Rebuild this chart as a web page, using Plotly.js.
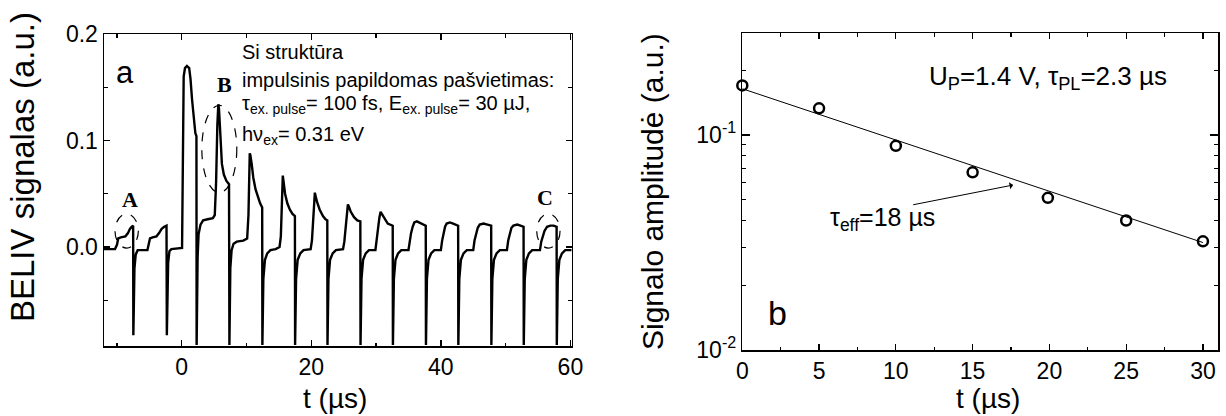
<!DOCTYPE html>
<html>
<head>
<meta charset="utf-8">
<script src="https://cdn.plot.ly/plotly-3.0.1.min.js"></script>
<style>
  html, body { margin: 0; padding: 0; background: #ffffff; }
  #chart { width: 1226px; height: 416px; }
</style>
</head>
<body>
<div id="chart"></div>
<script>
// (a) BELIV transient under pulsed excitation: time (µs) and signal (a.u.)
const beliv_t = [
  -12.0, -10.3, -10.0, -9.8, -9.4, -8.7, -8.3, -8.0, -7.7, -7.5,
  -7.47, -7.3, -7.1, -6.8, -5.3, -5.1, -4.9, -4.5, -3.9, -3.5, -3.1, -2.7, -2.35,
  -2.3, -2.1, -1.9, -1.6, 0.05, 0.15, 0.3, 0.5, 0.8, 1.15, 1.35, 1.6, 1.85, 2.1, 2.27,
  2.3, 2.45, 2.6, 2.9, 3.3, 4.0, 4.8, 5.1, 5.3, 5.5, 5.65, 5.75, 5.9, 6.05, 6.2, 6.5, 6.9, 7.3,
  7.36, 7.5, 7.7, 8.0, 8.5, 9.5, 10.1, 10.3, 10.5, 10.6, 10.8, 11.05, 11.4, 11.8, 12.1, 12.42,
  12.45, 12.6, 12.85, 13.2, 13.7, 14.5, 15.1, 15.3, 15.45, 15.6, 15.75, 15.95, 16.3, 16.7, 17.1, 17.47,
  17.5, 17.65, 17.9, 18.3, 18.8, 19.9, 20.1, 20.3, 20.55, 20.7, 20.9, 21.3, 21.8, 22.2, 22.47,
  22.5, 22.65, 22.9, 23.3, 23.8, 24.9, 25.1, 25.35, 25.65, 25.8, 26.1, 26.6, 27.1, 27.57,
  27.6, 27.75, 28.0, 28.4, 28.9, 29.9, 30.05, 30.25, 30.5, 30.7, 30.9, 31.3, 31.8, 32.57,
  32.6, 32.75, 33.0, 33.4, 33.9, 35.0, 35.2, 35.4, 35.65, 35.9, 36.3, 36.7, 37.2, 37.67,
  37.7, 37.85, 38.1, 38.5, 39.0, 40.0, 40.2, 40.4, 40.65, 40.9, 41.4, 41.9, 42.67,
  42.7, 42.85, 43.1, 43.5, 44.0, 45.0, 45.2, 45.4, 45.7, 46.0, 46.6, 47.2, 47.77,
  47.8, 47.95, 48.2, 48.6, 49.1, 50.2, 50.4, 50.6, 50.9, 51.2, 51.8, 52.3, 52.77,
  52.8, 52.95, 53.2, 53.6, 54.1, 55.3, 55.5, 55.7, 56.0, 56.4, 56.9, 57.4, 57.87,
  57.9, 58.05, 58.3, 58.7, 59.2, 60.2
];
const beliv_v = [
  -0.002, -0.002, 0.002, 0.008, 0.009, 0.010, 0.013, 0.017, 0.019, 0.020,
  -0.083, -0.020, -0.007, -0.003, -0.003, 0.002, 0.008, 0.009, 0.010, 0.013, 0.017, 0.019, 0.020,
  -0.083, -0.015, -0.004, -0.002, -0.001, 0.060, 0.160, 0.168, 0.170, 0.168, 0.158, 0.138, 0.120, 0.107, 0.104,
  -0.092, -0.010, 0.012, 0.021, 0.025, 0.026, 0.027, 0.030, 0.060, 0.115, 0.134, 0.130, 0.112, 0.093, 0.078, 0.068, 0.062, 0.059,
  -0.092, -0.020, -0.003, 0.003, 0.005, 0.006, 0.008, 0.030, 0.088, 0.086, 0.078, 0.065, 0.054, 0.046, 0.041, 0.037,
  -0.092, -0.030, -0.012, -0.006, -0.003, -0.002, 0.000, 0.010, 0.040, 0.067, 0.060, 0.050, 0.041, 0.035, 0.031, 0.029,
  -0.092, -0.030, -0.012, -0.006, -0.003, -0.002, 0.006, 0.025, 0.051, 0.047, 0.042, 0.035, 0.029, 0.026, 0.025,
  -0.092, -0.030, -0.012, -0.006, -0.003, -0.002, 0.005, 0.022, 0.040, 0.038, 0.033, 0.028, 0.025, 0.024,
  -0.092, -0.030, -0.012, -0.006, -0.003, -0.003, 0.005, 0.012, 0.027, 0.033, 0.031, 0.026, 0.022, 0.020,
  -0.092, -0.030, -0.012, -0.006, -0.003, -0.003, 0.006, 0.013, 0.019, 0.023, 0.024, 0.023, 0.021, 0.020,
  -0.092, -0.030, -0.012, -0.006, -0.003, -0.003, 0.006, 0.013, 0.019, 0.022, 0.023, 0.022, 0.020,
  -0.092, -0.030, -0.012, -0.006, -0.003, -0.003, 0.006, 0.012, 0.018, 0.021, 0.022, 0.021, 0.020,
  -0.092, -0.030, -0.012, -0.006, -0.003, -0.003, 0.006, 0.012, 0.018, 0.020, 0.021, 0.020, 0.019,
  -0.092, -0.030, -0.012, -0.006, -0.003, -0.003, 0.005, 0.010, 0.015, 0.019, 0.020, 0.020, 0.019,
  -0.092, -0.030, -0.012, -0.006, -0.003, -0.003
];

// (b) pulse amplitude vs. delay, with the exponential fit (tau_eff = 18 µs)
const amp_t = [0, 5, 10, 15, 19.9, 25, 30];
const amp_v = [0.170, 0.133, 0.089, 0.067, 0.051, 0.040, 0.032];
const fit_t = [0, 30];
const fit_v = [0.164, 0.0316];

// tick labels
const ax_a_x_ticks = [0, 20, 40, 60];
const ax_a_x_minor = [-10, 10, 30, 50];
const ax_a_y_ticks = [0, 0.1, 0.2];
const ax_a_y_labels = ['0.0', '0.1', '0.2'];
const ax_a_y_minor = [-0.05, 0.05, 0.15];
const ax_b_x_ticks = [0, 5, 10, 15, 20, 25, 30];
const ax_b_x_minor = [2.5, 7.5, 12.5, 17.5, 22.5, 27.5];
const ax_b_y_ticks = [0.01, 0.1];
const ax_b_y_labels = ['10<sup>-2</sup>', '10<sup>-1</sup>'];
const ax_b_y_minor = [0.02, 0.03, 0.04, 0.05, 0.06, 0.07, 0.08, 0.09, 0.2, 0.3];

const SANS = 'Liberation Sans, Arial, Helvetica, sans-serif';
const SERIF = 'Liberation Serif, Times New Roman, serif';
const W = 1226, H = 416;
const px = v => v / W;            // horizontal pixel -> paper fraction
const py = v => 1 - v / H;        // vertical pixel (from top) -> paper fraction

const axisCommon = {
  showline: true, linecolor: '#000', linewidth: 1.5, mirror: 'ticks',
  ticks: 'inside', ticklen: 6, tickwidth: 1.3, tickcolor: '#000',
  showgrid: false, zeroline: false,
  tickfont: { family: SANS, size: 23, color: '#000' }
};
const minorCommon = { ticks: 'inside', ticklen: 3.5, tickwidth: 1.2, tickcolor: '#000', showgrid: false };

const traces = [
  {
    x: beliv_t, y: beliv_v, xaxis: 'x', yaxis: 'y',
    type: 'scatter', mode: 'lines',
    line: { color: '#000', width: 2.4 }, hoverinfo: 'skip'
  },
  {
    x: fit_t, y: fit_v, xaxis: 'x2', yaxis: 'y2',
    type: 'scatter', mode: 'lines',
    line: { color: '#000', width: 1 }, hoverinfo: 'skip'
  },
  {
    x: amp_t, y: amp_v, xaxis: 'x2', yaxis: 'y2',
    type: 'scatter', mode: 'markers', cliponaxis: false,
    marker: { symbol: 'circle-open', size: 10, color: '#000', line: { color: '#000', width: 2.5 } },
    hoverinfo: 'skip'
  }
];

const txt = (size, fam) => ({ family: fam || SANS, size: size, color: '#000' });

const annotations = [
  // axis titles
  { xref: 'paper', yref: 'paper', x: px(22), y: py(167), text: 'BELIV signalas (a.u.)', textangle: -90,
    showarrow: false, font: txt(33), xanchor: 'center', yanchor: 'middle' },
  { xref: 'paper', yref: 'paper', x: px(335), y: py(398), text: 't (µs)',
    showarrow: false, font: txt(28), xanchor: 'center', yanchor: 'middle' },
  { xref: 'paper', yref: 'paper', x: px(652), y: py(191), text: 'Signalo amplitudė (a.u.)', textangle: -90,
    showarrow: false, font: txt(30), xanchor: 'center', yanchor: 'middle' },
  { xref: 'paper', yref: 'paper', x: px(988), y: py(398), text: 't (µs)',
    showarrow: false, font: txt(28), xanchor: 'center', yanchor: 'middle' },
  // panel letters
  { xref: 'paper', yref: 'paper', x: px(125), y: py(72), text: 'a',
    showarrow: false, font: txt(31), xanchor: 'center', yanchor: 'middle' },
  { xref: 'paper', yref: 'paper', x: px(777), y: py(313), text: 'b',
    showarrow: false, font: txt(34), xanchor: 'center', yanchor: 'middle' },
  // panel (a) description
  { xref: 'x', yref: 'y', x: 9.0, y: 0.1827, text: 'Si struktūra',
    showarrow: false, font: txt(20), xanchor: 'left', yanchor: 'middle' },
  { xref: 'x', yref: 'y', x: 9.0, y: 0.1565, text: 'impulsinis papildomas pašvietimas:',
    showarrow: false, font: txt(20), xanchor: 'left', yanchor: 'middle' },
  { xref: 'x', yref: 'y', x: 9.0, y: 0.1336,
    text: 'τ<sub>ex. pulse</sub>= 100 fs, E<sub>ex. pulse</sub>= 30 µJ,',
    showarrow: false, font: txt(20), xanchor: 'left', yanchor: 'middle' },
  { xref: 'x', yref: 'y', x: 9.0, y: 0.1051, text: 'hν<sub>ex</sub>= 0.31 eV',
    showarrow: false, font: txt(20), xanchor: 'left', yanchor: 'middle' },
  // marked regions
  { xref: 'x', yref: 'y', x: -8.0, y: 0.045, text: '<b>A</b>',
    showarrow: false, font: txt(22, SERIF), xanchor: 'center', yanchor: 'middle' },
  { xref: 'x', yref: 'y', x: 6.56, y: 0.153, text: '<b>B</b>',
    showarrow: false, font: txt(22, SERIF), xanchor: 'center', yanchor: 'middle' },
  { xref: 'x', yref: 'y', x: 56.1, y: 0.046, text: '<b>C</b>',
    showarrow: false, font: txt(22, SERIF), xanchor: 'center', yanchor: 'middle' },
  // panel (b) texts (log axis: positions given as log10)
  { xref: 'x2', yref: 'y2', x: 12.0, y: Math.log10(0.184),
    text: 'U<sub>P</sub>=1.4 V, τ<sub>PL</sub>=2.3 µs',
    showarrow: false, font: txt(26), xanchor: 'left', yanchor: 'middle' },
  { xref: 'x2', yref: 'y2', x: 9.16, y: Math.log10(0.0405),
    text: 'τ<sub>eff</sub>=18 µs',
    showarrow: false, font: txt(25), xanchor: 'center', yanchor: 'middle' },
  { xref: 'x2', yref: 'y2', x: 17.64, y: Math.log10(0.0585),
    axref: 'x2', ayref: 'y2', ax: 11.03, ay: Math.log10(0.0472),
    text: '', showarrow: true, arrowhead: 1, arrowsize: 1.2, arrowwidth: 1, arrowcolor: '#000', standoff: 0 }
];

const shapes = [
  { type: 'circle', xref: 'x', yref: 'y', x0: -10.3, x1: -6.7, y0: -0.001, y1: 0.031,
    line: { color: '#000', width: 1.2, dash: 'dash' } },
  { type: 'circle', xref: 'x', yref: 'y', x0: 3.1, x1: 8.5, y0: 0.051, y1: 0.133,
    line: { color: '#000', width: 1.2, dash: 'dash' } },
  { type: 'circle', xref: 'x', yref: 'y', x0: 54.8, x1: 58.4, y0: -0.001, y1: 0.031,
    line: { color: '#000', width: 1.2, dash: 'dash' } }
];

const layout = {
  width: W, height: H,
  margin: { l: 0, r: 0, t: 0, b: 0 },
  paper_bgcolor: '#fff', plot_bgcolor: '#fff',
  showlegend: false,
  xaxis: Object.assign({}, axisCommon, {
    domain: [px(104), px(571.7)], range: [-12, 60.2], anchor: 'y',
    tickmode: 'array', tickvals: ax_a_x_ticks,
    minor: Object.assign({ tickmode: 'array', tickvals: ax_a_x_minor }, minorCommon)
  }),
  yaxis: Object.assign({}, axisCommon, {
    domain: [py(346), py(34)], range: [-0.093, 0.2], anchor: 'x',
    tickmode: 'array', tickvals: ax_a_y_ticks, ticktext: ax_a_y_labels,
    minor: Object.assign({ tickmode: 'array', tickvals: ax_a_y_minor }, minorCommon)
  }),
  xaxis2: Object.assign({}, axisCommon, {
    domain: [px(742.3), px(1218.3)], range: [0, 31], anchor: 'y2',
    tickmode: 'array', tickvals: ax_b_x_ticks,
    minor: Object.assign({ tickmode: 'array', tickvals: ax_b_x_minor }, minorCommon)
  }),
  yaxis2: Object.assign({}, axisCommon, {
    type: 'log', domain: [py(350), py(33)], range: [-2, -0.526], anchor: 'x2',
    tickmode: 'array', tickvals: ax_b_y_ticks, ticktext: ax_b_y_labels, ticklen: 8,
    minor: Object.assign({ tickmode: 'array', tickvals: ax_b_y_minor }, minorCommon, { ticklen: 4 })
  }),
  annotations: annotations,
  shapes: shapes
};

Plotly.newPlot('chart', traces, layout, { staticPlot: true, displayModeBar: false });
</script>
</body>
</html>
